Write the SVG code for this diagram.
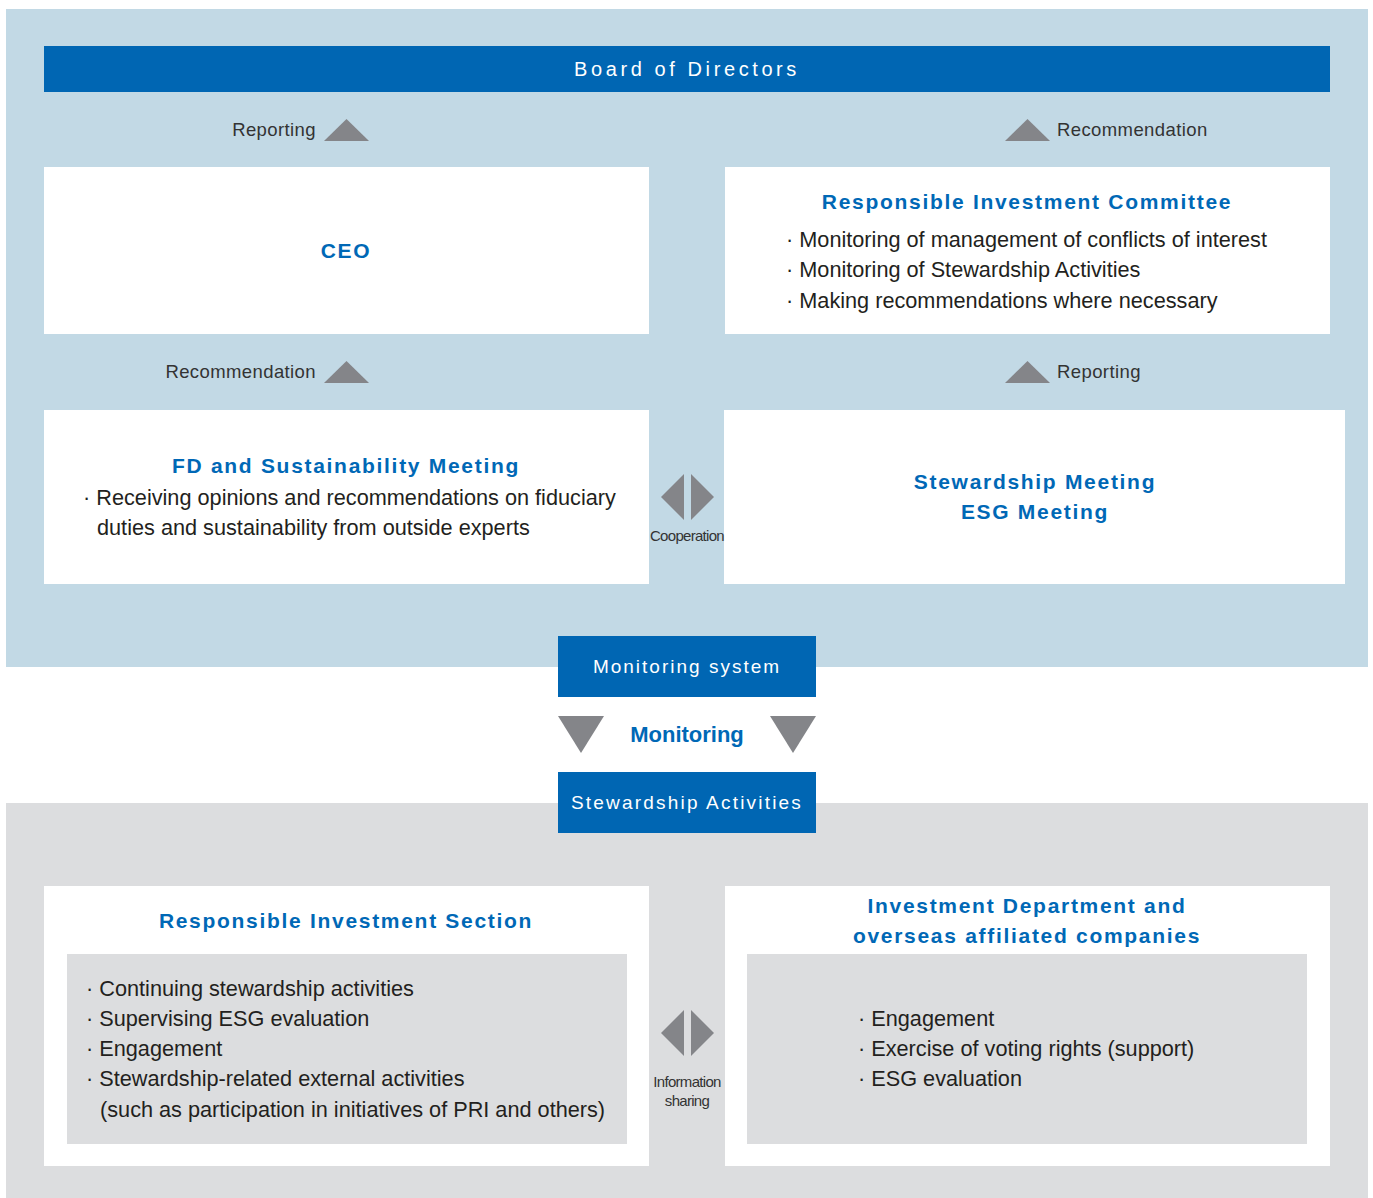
<svg xmlns="http://www.w3.org/2000/svg" width="1373" height="1198" viewBox="0 0 1373 1198">
<style>
.bar{fill:#0066b3}
.box{fill:#ffffff}
.inner{fill:#dcdddf}
.tri{fill:#848589}
.bt{font-family:"Liberation Sans",Arial,sans-serif;font-size:19px;fill:#ffffff;letter-spacing:2px;text-anchor:middle}
.h{font-family:"Liberation Sans",Arial,sans-serif;font-size:21px;font-weight:bold;fill:#0068b6;letter-spacing:1.7px;text-anchor:middle}
.t{font-family:"Liberation Sans",Arial,sans-serif;font-size:21.7px;fill:#231f20}
.lab{font-family:"Liberation Sans",Arial,sans-serif;font-size:18.5px;letter-spacing:0.4px;fill:#333333}
.sm{font-family:"Liberation Sans",Arial,sans-serif;font-size:15px;fill:#333333;text-anchor:middle;letter-spacing:-0.7px}
</style>
<rect x="6" y="9" width="1362" height="658" fill="#c2d9e5"/>
<rect x="6" y="803" width="1362" height="395" fill="#dcdddf"/>

<g id="board">
<rect class="bar" x="44" y="46" width="1286" height="46"/>
<text class="bt" x="687" y="76" style="font-size:20px;letter-spacing:3.6px">Board of Directors</text>
</g>
<g id="ceo">
<rect class="box" x="44" y="167" width="605" height="167"/>
<text class="h" x="346" y="258">CEO</text>
</g>
<g id="ric">
<rect class="box" x="725" y="167" width="605" height="167"/>
<text class="h" x="1027" y="209">Responsible Investment Committee</text>
<text class="t" x="786" y="247">· Monitoring of management of conflicts of interest</text>
<text class="t" x="786" y="277">· Monitoring of Stewardship Activities</text>
<text class="t" x="786" y="308">· Making recommendations where necessary</text>
</g>
<g id="fd">
<rect class="box" x="44" y="410" width="605" height="174"/>
<text class="h" x="346" y="473">FD and Sustainability Meeting</text>
<text class="t" x="83" y="505">· Receiving opinions and recommendations on fiduciary</text>
<text class="t" x="97" y="535">duties and sustainability from outside experts</text>
</g>
<g id="stewardship-meeting">
<rect class="box" x="724" y="410" width="621" height="174"/>
<text class="h" x="1035" y="489">Stewardship Meeting</text>
<text class="h" x="1035" y="519">ESG Meeting</text>
</g>
<g id="monitoring-system">
<rect class="bar" x="558" y="636" width="258" height="61"/>
<text class="bt" x="687" y="673">Monitoring system</text>
</g>
<g id="stewardship-activities">
<rect class="bar" x="558" y="772" width="258" height="61"/>
<text class="bt" x="687" y="809" style="letter-spacing:2.2px">Stewardship Activities</text>
</g>
<g id="ris">
<rect class="box" x="44" y="886" width="605" height="280"/>
<text class="h" x="346" y="928">Responsible Investment Section</text>
<rect class="inner" x="67" y="954" width="560" height="190"/>
<text class="t" x="86" y="996">· Continuing stewardship activities</text>
<text class="t" x="86" y="1026">· Supervising ESG evaluation</text>
<text class="t" x="86" y="1056">· Engagement</text>
<text class="t" x="86" y="1086">· Stewardship-related external activities</text>
<text class="t" x="100" y="1117">(such as participation in initiatives of PRI and others)</text>
</g>
<g id="invdept">
<rect class="box" x="725" y="886" width="605" height="280"/>
<text class="h" x="1027" y="913">Investment Department and</text>
<text class="h" x="1027" y="943">overseas affiliated companies</text>
<rect class="inner" x="747" y="954" width="560" height="190"/>
<text class="t" x="858" y="1026">· Engagement</text>
<text class="t" x="858" y="1056">· Exercise of voting rights (support)</text>
<text class="t" x="858" y="1086">· ESG evaluation</text>
</g>
<g id="connectors">
<polygon class="tri" points="324,141 369,141 346.5,119"/>
<text class="lab" x="316" y="136" text-anchor="end">Reporting</text>
<polygon class="tri" points="1005,141 1050,141 1027.5,119"/>
<text class="lab" x="1057" y="136">Recommendation</text>
<polygon class="tri" points="324,383 369,383 346.5,361"/>
<text class="lab" x="316" y="378" text-anchor="end">Recommendation</text>
<polygon class="tri" points="1005,383 1050,383 1027.5,361"/>
<text class="lab" x="1057" y="378">Reporting</text>
<polygon class="tri" points="684,474 684,520 661,497"/>
<polygon class="tri" points="691,474 691,520 714,497"/>
<text class="sm" x="687" y="541">Cooperation</text>
<polygon class="tri" points="558,716 604,716 581,753"/>
<polygon class="tri" points="770,716 816,716 793,753"/>
<text class="h" x="687" y="742" style="letter-spacing:0;font-size:22px">Monitoring</text>
<polygon class="tri" points="684,1010 684,1056 661,1033"/>
<polygon class="tri" points="691,1010 691,1056 714,1033"/>
<text class="sm" x="687" y="1087">Information</text>
<text class="sm" x="687" y="1106">sharing</text>
</g>
</svg>
